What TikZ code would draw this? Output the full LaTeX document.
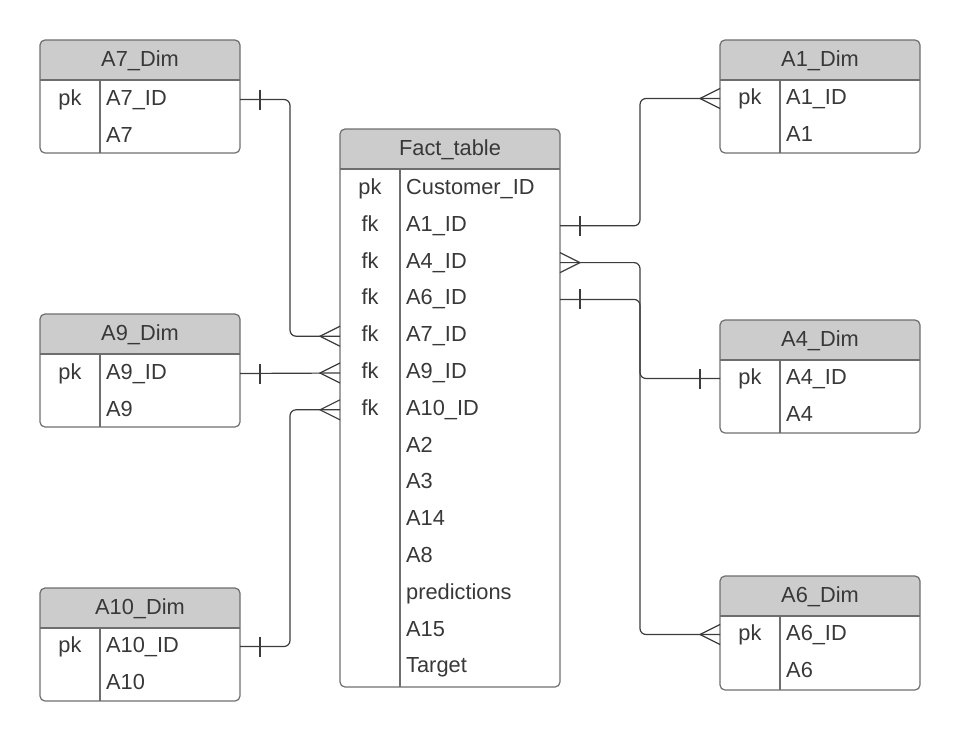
\documentclass[tikz,border=0pt]{standalone}
\usepackage{fontspec}
\setmainfont{Liberation Sans}
\usetikzlibrary{backgrounds}
\definecolor{hdrgray}{HTML}{CCCCCC}
\definecolor{txtgray}{HTML}{383838}
\definecolor{boxgray}{HTML}{6E6E6E}
\definecolor{wiregray}{HTML}{3C3C3C}
\begin{document}
\begin{tikzpicture}[x=1pt, y=-1pt, font=\fontsize{21.8}{26}\selectfont, text=txtgray,
    tbl/.style={draw=boxgray, line width=1.2pt, rounded corners=5pt, anchor=north west, outer sep=0pt, inner sep=0pt},
    grid/.style={draw=boxgray, line width=1.2pt},
    title/.style={minimum height=37pt, anchor=north, inner sep=0pt, outer sep=0pt, text height=15pt, text depth=0pt},
    key/.style={anchor=center, inner sep=0pt, text height=13pt, text depth=2pt},
    field/.style={anchor=west, inner sep=0pt, text height=13pt, text depth=2pt},
    conn/.style={draw=wiregray, line width=1.2pt, rounded corners=6pt},
    crowline/.style={draw=wiregray, line width=1.2pt},
    many/.pic={\draw[crowline] (0,-10) -- (-20,0) -- (0,10);},
    one/.pic={\draw[crowline] (-20,-10) -- (-20,10);}]
    \useasboundingbox (0,0) rectangle (960,742);

    \node[tbl, minimum width=200pt, minimum height=113pt] (a7) at (40,40) {};
    \node[title] (a7t) at (a7.north) {A7\_Dim};
    \node[key] (a7k) at (70,99.5) {pk};
    \node[field] (a7id) at (106,99.5) {A7\_ID};
    \node[field] (a7f) at (106,136.5) {A7};

    \node[tbl, minimum width=200pt, minimum height=113pt] (a9) at (40,314) {};
    \node[title] (a9t) at (a9.north) {A9\_Dim};
    \node[key] (a9k) at (70,373.5) {pk};
    \node[field] (a9id) at (106,373.5) {A9\_ID};
    \node[field] (a9f) at (106,410.5) {A9};

    \node[tbl, minimum width=200pt, minimum height=113pt] (a10) at (40,588) {};
    \node[title] (a10t) at (a10.north) {A10\_Dim};
    \node[key] (a10k) at (70,646.5) {pk};
    \node[field] (a10id) at (106,646.5) {A10\_ID};
    \node[field] (a10f) at (106,683.5) {A10};

    \node[tbl, minimum width=200pt, minimum height=113pt] (a1) at (720,40) {};
    \node[title] (a1t) at (a1.north) {A1\_Dim};
    \node[key] (a1k) at (750,98.5) {pk};
    \node[field] (a1id) at (786,98.5) {A1\_ID};
    \node[field] (a1f) at (786,135.5) {A1};

    \node[tbl, minimum width=200pt, minimum height=113pt] (a4) at (720,320) {};
    \node[title] (a4t) at (a4.north) {A4\_Dim};
    \node[key] (a4k) at (750,378.5) {pk};
    \node[field] (a4id) at (786,378.5) {A4\_ID};
    \node[field] (a4f) at (786,415.5) {A4};

    \node[tbl, minimum width=200pt, minimum height=114pt] (a6) at (720,576) {};
    \node[title] (a6t) at (a6.north) {A6\_Dim};
    \node[key] (a6k) at (750,634.5) {pk};
    \node[field] (a6id) at (786,634.5) {A6\_ID};
    \node[field] (a6f) at (786,671.5) {A6};

    \node[tbl, minimum width=220pt, minimum height=558pt] (fact) at (340,129) {};
    \node[title] (factt) at (fact.north) {Fact\_table};
    \node[key] (fk1) at (370,189) {pk};
    \node[key] (fk2) at (370,225.8) {fk};
    \node[key] (fk3) at (370,262.6) {fk};
    \node[key] (fk4) at (370,299.4) {fk};
    \node[key] (fk5) at (370,336.2) {fk};
    \node[key] (fk6) at (370,373) {fk};
    \node[key] (fk7) at (370,409.8) {fk};
    \node[field] (fcid) at (406,189) {Customer\_ID};
    \node[field] (fa1) at (406,225.8) {A1\_ID};
    \node[field] (fa4) at (406,262.6) {A4\_ID};
    \node[field] (fa6) at (406,299.4) {A6\_ID};
    \node[field] (fa7) at (406,336.2) {A7\_ID};
    \node[field] (fa9) at (406,373) {A9\_ID};
    \node[field] (fa10) at (406,409.8) {A10\_ID};
    \node[field] (fa2) at (406,446.6) {A2};
    \node[field] (fa3) at (406,483.4) {A3};
    \node[field] (fa14) at (406,520.2) {A14};
    \node[field] (fa8) at (406,557) {A8};
    \node[field] (fpred) at (406,593.8) {predictions};
    \node[field] (fa15) at (406,630.6) {A15};
    \node[field] (ftarget) at (406,667.4) {Target};

    \begin{scope}[on background layer]
        \fill[hdrgray] ([yshift=-40pt]a7.north west) [rounded corners=5pt] -- (a7.north west) -- (a7.north east) [sharp corners] -- ([yshift=-40pt]a7.north east) -- cycle;
        \fill[hdrgray] ([yshift=-40pt]a9.north west) [rounded corners=5pt] -- (a9.north west) -- (a9.north east) [sharp corners] -- ([yshift=-40pt]a9.north east) -- cycle;
        \fill[hdrgray] ([yshift=-40pt]a10.north west) [rounded corners=5pt] -- (a10.north west) -- (a10.north east) [sharp corners] -- ([yshift=-40pt]a10.north east) -- cycle;
        \fill[hdrgray] ([yshift=-40pt]a1.north west) [rounded corners=5pt] -- (a1.north west) -- (a1.north east) [sharp corners] -- ([yshift=-40pt]a1.north east) -- cycle;
        \fill[hdrgray] ([yshift=-40pt]a4.north west) [rounded corners=5pt] -- (a4.north west) -- (a4.north east) [sharp corners] -- ([yshift=-40pt]a4.north east) -- cycle;
        \fill[hdrgray] ([yshift=-40pt]a6.north west) [rounded corners=5pt] -- (a6.north west) -- (a6.north east) [sharp corners] -- ([yshift=-40pt]a6.north east) -- cycle;
        \fill[hdrgray] ([yshift=-40pt]fact.north west) [rounded corners=5pt] -- (fact.north west) -- (fact.north east) [sharp corners] -- ([yshift=-40pt]fact.north east) -- cycle;
    \end{scope}

    \draw[grid] ([yshift=-40pt]a7.north west) -- ([yshift=-40pt]a7.north east) ([xshift=60pt,yshift=-40pt]a7.north west) -- ([xshift=60pt]a7.south west);
    \draw[grid] ([yshift=-40pt]a9.north west) -- ([yshift=-40pt]a9.north east) ([xshift=60pt,yshift=-40pt]a9.north west) -- ([xshift=60pt]a9.south west);
    \draw[grid] ([yshift=-40pt]a10.north west) -- ([yshift=-40pt]a10.north east) ([xshift=60pt,yshift=-40pt]a10.north west) -- ([xshift=60pt]a10.south west);
    \draw[grid] ([yshift=-40pt]a1.north west) -- ([yshift=-40pt]a1.north east) ([xshift=60pt,yshift=-40pt]a1.north west) -- ([xshift=60pt]a1.south west);
    \draw[grid] ([yshift=-40pt]a4.north west) -- ([yshift=-40pt]a4.north east) ([xshift=60pt,yshift=-40pt]a4.north west) -- ([xshift=60pt]a4.south west);
    \draw[grid] ([yshift=-40pt]a6.north west) -- ([yshift=-40pt]a6.north east) ([xshift=60pt,yshift=-40pt]a6.north west) -- ([xshift=60pt]a6.south west);
    \draw[grid] ([yshift=-40pt]fact.north west) -- ([yshift=-40pt]fact.north east) ([xshift=60pt,yshift=-40pt]fact.north west) -- ([xshift=60pt]fact.south west);

    \coordinate (lbus) at (290,0);
    \coordinate (rbus) at (640,0);

    \draw[conn] (a7id -| a7.east) -| (lbus |- fa7) -- (fa7 -| fact.west);
    \draw[conn] (a9id -| a9.east) -- (fa9 -| fact.west);
    \draw[conn] (a10id -| a10.east) -| (lbus |- fa10) -- (fa10 -| fact.west);
    \draw[conn] (fa1 -| fact.east) -| (rbus |- a1id) -- (a1id -| a1.west);
    \draw[conn] (fa4 -| fact.east) -| (rbus |- a4id) -- (a4id -| a4.west);
    \draw[conn] (fa6 -| fact.east) -| (rbus |- a6id) -- (a6id -| a6.west);

    \pic[xscale=-1] at (a7id -| a7.east) {one};
    \pic[xscale=-1] at (a9id -| a9.east) {one};
    \pic[xscale=-1] at (a10id -| a10.east) {one};
    \pic at (fa7 -| fact.west) {many};
    \pic at (fa9 -| fact.west) {many};
    \pic at (fa10 -| fact.west) {many};
    \pic[xscale=-1] at (fa1 -| fact.east) {one};
    \pic[xscale=-1] at (fa4 -| fact.east) {many};
    \pic[xscale=-1] at (fa6 -| fact.east) {one};
    \pic at (a1id -| a1.west) {many};
    \pic at (a4id -| a4.west) {one};
    \pic at (a6id -| a6.west) {many};
\end{tikzpicture}
\end{document}
